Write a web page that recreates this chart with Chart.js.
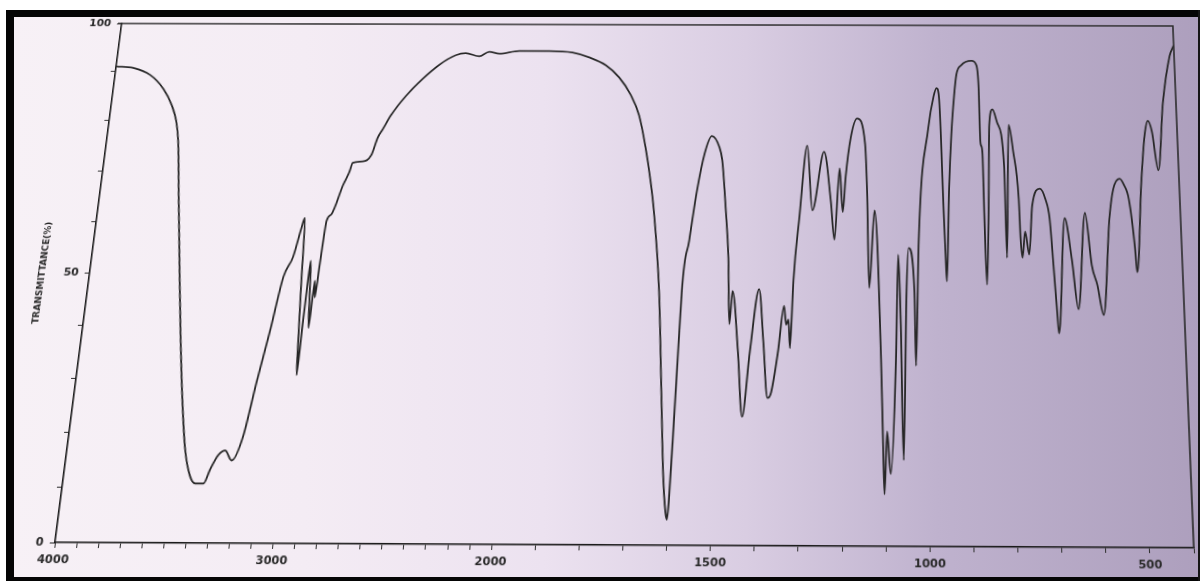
<!DOCTYPE html>
<html>
<head>
<meta charset="utf-8">
<script src="https://cdn.jsdelivr.net/npm/chart.js@4/dist/chart.umd.min.js"></script>
<style>
  html, body { margin:0; padding:0; }
  body { width:1200px; height:581px; overflow:hidden; position:relative; background:#ffffff; }
  #paper { position:absolute; left:6px; top:10px; width:1194px; height:571px;
    background: linear-gradient(to right, #f7f1f6 0%, #f4ecf4 25%, #ece2f0 45%, #d9cde2 62%, #bfb2ce 78%, #ad9fbd 100%); }
  #fTop { position:absolute; left:6px; top:10px; width:1194px; height:7px; background:#050505; }
  #fLeft { position:absolute; left:6px; top:10px; width:8px; height:571px; background:#050505; }
  #fBottom { position:absolute; left:6px; top:577px; width:1194px; height:4px; background:#050505; }
  #fRight { position:absolute; left:1198px; top:10px; width:2px; height:571px; background:#151515; }
  #c { position:absolute; left:0; top:0; transform-origin:0 0; }
</style>
</head>
<body>
<div id="paper"></div>
<canvas id="c" width="1200" height="581"></canvas>
<div id="fTop"></div><div id="fLeft"></div><div id="fBottom"></div><div id="fRight"></div>
<script>
// ---- data (wavenumber in cm-1, transmittance in %) ----
const WAVENUMBER = [4000,3914,3828,3753,3703,3672,3652,3616,3576,3535,
  3490,3449,3414,3387,3348,3324,3293,3264,3229,3188,
  3150,3111,3073,3036,3009,2998,2985,2972,2965,2960,
  2955,2950,2940,2930,2922,2914,2905,2892,2872,2828,
  2804,2791,2743,2704,2680,2660,2625,2560,2485,2408,
  2330,2282,2214,2166,2116,2019,1935,1878,1836,1794,
  1760,1730,1707,1688,1673,1661,1641,1626,1614,1606,
  1602,1599,1595,1592,1587,1574,1560,1544,1528,1509,1501,
  1489,1479,1472,1467,1450,1436,1422,1404,1391,1378,
  1370,1356,1344,1338,1333,1328,1323,1312,1296,1281,
  1255,1237,1227,1217,1208,1202,1191,1176,1156,1150,
  1143,1132,1114,1108,1104,1099,1090,1079,1075,1068,
  1060,1055,1050,1036,1032,1026,1003,990,983,977,
  966,962,959,953,947,940,934,922,897,885,
  880,877,875,872,869,864,858,855,847,836,
  820,816,808,798,786,783,779,772,763,754,735,722,
  713,706,699,696,677,662,649,628,615,603,590,570,559,
  543,533,522,511,508,491,479,470,461,449,432,411,400];
const TRANSMITTANCE = [91.1,90.8,89.4,86.5,83.2,80.0,76.2,64.6,51.8,39.0,
  26.2,16.6,12.0,10.7,10.7,13.3,15.9,16.7,14.9,19.2,
  29.4,39.0,49.3,53.2,58.9,60.8,48,36,30.7,40,
  47.6,52.4,46,39.6,48.6,45.4,52,60.2,61.5,67.3,
  69.8,71.7,72.0,73.3,76.8,78.4,81.3,85.2,88.7,91.6,
  93.6,94.0,93.4,94.3,93.9,94.5,94.5,94.2,93.2,91.6,
  89.1,85.6,81.4,75.0,68.6,62.2,46.9,27.7,12.3,6,
  4.6,8,20,30,46.9,56.5,66.1,73.8,77.3,75.1,72.5,
  62.9,53.3,40.6,46.9,35.4,23.3,35.4,47.3,37.4,26.8,
  27.8,35.4,44.1,40.5,41.5,36.1,48.9,61.0,75.4,62.6,
  74.2,64.4,56.9,70.9,62.3,69.3,77.0,80.9,75.8,66.1,
  47.6,62.6,34.2,18.3,9.3,20.7,13.0,34.2,54.0,40.6,
  15.5,45.7,55.3,46.9,32.9,56.6,79.0,85.4,87.1,85.4,
  62,54,48.9,66.9,77.8,85.5,89.9,91.8,92.7,91.8,
  87.3,76.5,75.5,73.9,62,48.3,64.9,79.6,82.8,80.2,
  71.3,53.5,79.7,74.5,64.9,57.2,53.5,58.6,54.1,63.7,67.0,64.9,
  61.2,52.2,42.6,39.1,61.2,53.2,43.7,62.3,52.1,48.3,42.6,61.2,66.9,
  69.0,67.8,64.9,55.3,50.8,68.2,77.7,80.6,78.4,70.7,84.1,93.8,96];
const X_LABELS = [4000, 3000, 2000, 1500, 1000, 500];
const Y_LABELS = [0, 50, 100];
const X_MAX = 4000, X_MIN = 400, X_SPLIT = 2000;
const Y_TITLE = 'TRANSMITTANCE(%)';

// ---- IR axis: 4000-2000 at half scale, 2000-400 at full scale ----
const X_TICK_VALUES = [];
for (let v = X_MAX; v >= X_MIN; v -= 100) X_TICK_VALUES.push(v);

class IRScale extends Chart.LinearScale {
  buildTicks() { return X_TICK_VALUES.map(v => ({ value: v })); }
  _unit(v) { return v >= X_SPLIT ? (X_MAX - v) / 2 : (X_MAX - X_SPLIT) / 2 + (X_SPLIT - v); }
  getPixelForValue(v) {
    if (v === null || v === undefined || isNaN(v)) return NaN;
    return this.getPixelForDecimal(this._unit(v) / this._unit(X_MIN));
  }
  getValueForPixel(p) {
    const u = this.getDecimalForPixel(p) * this._unit(X_MIN);
    const half = (X_MAX - X_SPLIT) / 2;
    return u <= half ? X_MAX - 2 * u : X_SPLIT - (u - half);
  }
}
IRScale.id = 'irscale';
IRScale.defaults = Chart.LinearScale.defaults;
Chart.register(IRScale);

const frame = {
  id: 'frame',
  afterDraw(chart) {
    const { ctx, chartArea: a } = chart;
    ctx.save();
    ctx.strokeStyle = '#2a2a2a';
    ctx.lineWidth = 1.6;
    ctx.beginPath();
    ctx.moveTo(a.left - 4, a.top); ctx.lineTo(a.right, a.top); ctx.lineTo(a.right, a.bottom);
    ctx.stroke();
    ctx.restore();
  }
};

const tickFont = { family: 'DejaVu Sans', size: 11, weight: 'bold' };
const chart = new Chart(document.getElementById('c'), {
  type: 'line',
  data: {
    datasets: [{
      data: WAVENUMBER.map((w, i) => ({ x: w, y: TRANSMITTANCE[i] })),
      borderColor: '#262626',
      borderWidth: 1.8,
      pointRadius: 0,
      fill: false,
      cubicInterpolationMode: 'monotone'
    }]
  },
  options: {
    responsive: false,
    animation: false,
    devicePixelRatio: 1,
    layout: { padding: { left: 33, right: 17, top: 25, bottom: 8 } },
    plugins: { legend: { display: false }, tooltip: { enabled: false } },
    scales: {
      x: {
        type: 'irscale', min: X_MIN, max: X_MAX,
        afterFit: s => { s.height = 28; },
        grid: { display: true, drawOnChartArea: false, drawTicks: true, tickLength: 5, color: '#333' },
        border: { display: true, color: '#1a1a1a', width: 1.6 },
        ticks: {
          autoSkip: false, maxRotation: 0, minRotation: 0, padding: 5,
          color: '#2a2a2a', font: tickFont,
          callback: v => X_LABELS.includes(v) ? String(v) : ''
        }
      },
      y: {
        type: 'linear', min: 0, max: 100,
        afterFit: s => { s.width = 55; },
        grid: { display: true, drawOnChartArea: false, drawTicks: true, tickLength: 5, color: '#333' },
        border: { display: true, color: '#1a1a1a', width: 1.6 },
        title: { display: true, text: Y_TITLE, color: '#2a2a2a', padding: { top: 2, bottom: 2 },
                 font: { family: 'DejaVu Sans', size: 9, weight: 'bold' } },
        ticks: {
          stepSize: 10, padding: 6, color: '#2a2a2a', font: tickFont,
          callback: v => Y_LABELS.includes(v) ? String(v) : ''
        }
      }
    }
  },
  plugins: [frame]
});

// ---- photo perspective: map the plot rectangle onto the photographed quadrilateral ----
function solveH(src, dst) {
  const A = [], b = [];
  for (let i = 0; i < 4; i++) {
    const [x, y] = src[i], [u, v] = dst[i];
    A.push([x, y, 1, 0, 0, 0, -x * u, -y * u]); b.push(u);
    A.push([0, 0, 0, x, y, 1, -x * v, -y * v]); b.push(v);
  }
  const n = 8;
  for (let c = 0; c < n; c++) {
    let p = c;
    for (let r = c + 1; r < n; r++) if (Math.abs(A[r][c]) > Math.abs(A[p][c])) p = r;
    [A[c], A[p]] = [A[p], A[c]]; [b[c], b[p]] = [b[p], b[c]];
    for (let r = c + 1; r < n; r++) {
      const f = A[r][c] / A[c][c];
      for (let k = c; k < n; k++) A[r][k] -= f * A[c][k];
      b[r] -= f * b[c];
    }
  }
  const h = new Array(n);
  for (let r = n - 1; r >= 0; r--) {
    let s = b[r];
    for (let k = r + 1; k < n; k++) s -= A[r][k] * h[k];
    h[r] = s / A[r][r];
  }
  return h;
}
const a = chart.chartArea;
const src = [[a.left, a.top], [a.right, a.top], [a.right, a.bottom], [a.left, a.bottom]];
const dst = [[121.7, 23.5], [1173, 26], [1194, 548], [55, 542.5]];
const h = solveH(src, dst);
document.getElementById('c').style.transform =
  `matrix3d(${h[0]},${h[3]},0,${h[6]},${h[1]},${h[4]},0,${h[7]},0,0,1,0,${h[2]},${h[5]},0,1)`;
</script>
</body>
</html>
